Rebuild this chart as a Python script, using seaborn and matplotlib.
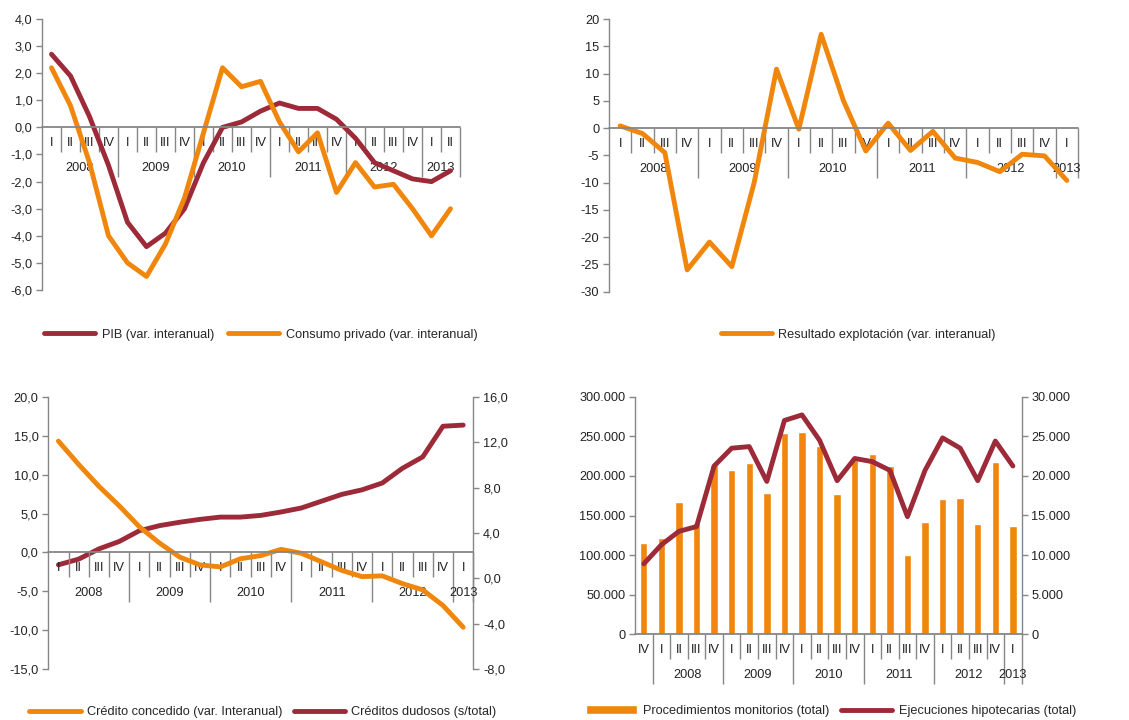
import numpy as np
import pandas as pd
import seaborn as sns
import matplotlib.pyplot as plt
from matplotlib.ticker import FuncFormatter, MultipleLocator

# Datos
trim_a = ['I', 'II', 'III', 'IV'] * 5 + ['I', 'II']          # 2008 I - 2013 II
trim_b = ['I', 'II', 'III', 'IV'] * 5 + ['I']                # 2008 I - 2013 I
trim_c = ['IV'] + ['I', 'II', 'III', 'IV'] * 5 + ['I']       # 2007 IV - 2013 I
anios = ['2008', '2009', '2010', '2011', '2012', '2013']

pib = [2.7, 1.9, 0.4, -1.4, -3.5, -4.4, -3.9, -3.0, -1.3, 0.0, 0.2, 0.6,
       0.9, 0.7, 0.7, 0.3, -0.4, -1.3, -1.6, -1.9, -2.0, -1.6]
consumo = [2.2, 0.8, -1.3, -4.0, -5.0, -5.5, -4.3, -2.6, -0.2, 2.2, 1.5, 1.7,
           0.2, -0.9, -0.2, -2.4, -1.3, -2.2, -2.1, -3.0, -4.0, -3.0]

resultado = [0.4, -1.0, -4.5, -26.0, -20.9, -25.4, -10.0, 10.8, -0.2, 17.2, 5.0,
             -4.2, 0.9, -4.1, -0.6, -5.5, -6.3, -8.0, -4.8, -5.1, -9.6]

credito = [14.3, 11.3, 8.5, 6.0, 3.3, 1.2, -0.6, -1.6, -1.85, -0.8, -0.4,
           0.4, -0.1, -1.2, -2.3, -3.1, -3.0, -4.0, -4.8, -6.8, -9.6]
dudosos = [1.2, 1.7, 2.6, 3.25, 4.2, 4.65, 4.95, 5.2, 5.4, 5.4, 5.55,
           5.85, 6.2, 6.8, 7.4, 7.8, 8.4, 9.7, 10.7, 13.4, 13.5]

monitorios = [115000, 121000, 167000, 141000, 214000, 207000, 216000, 178000,
              254000, 255000, 238000, 177000, 220000, 228000, 212000, 100000,
              142000, 171000, 172000, 139000, 217000, 137000]
ejecuciones = [8900, 11300, 13000, 13600, 21250, 23500, 23700, 19300, 27000,
               27700, 24500, 19400, 22200, 21800, 20700, 14850, 20700, 24800,
               23500, 19400, 24400, 21250]

ROJO = '#9d2a38'
NARANJA = '#f0860c'
GRIS = '#868686'
TXT = 9.2

sns.set_style("ticks")
plt.rcParams['font.family'] = ['Liberation Sans', 'DejaVu Sans']
plt.rcParams['font.size'] = TXT

fig = plt.figure(figsize=(11.29, 7.2), dpi=100)
FIG_H = 720

coma1 = FuncFormatter(lambda v, p: f"{v:.1f}".replace('.', ','))
entero = FuncFormatter(lambda v, p: f"{v:.0f}")
miles = FuncFormatter(lambda v, p: f"{v:,.0f}".replace(',', '.'))


def estilo(ax, lado='left'):
    for s in ['top', 'right', 'bottom', 'left']:
        ax.spines[s].set_visible(False)
    ax.spines[lado].set_visible(True)
    ax.spines[lado].set_color(GRIS)
    ax.spines[lado].set_linewidth(1.0)
    ax.set_xticks([])
    ax.set_xlabel('')
    ax.set_ylabel('')
    ax.tick_params(axis='y', direction='out', length=4, width=1, color=GRIS,
                   pad=3, labelsize=TXT, labelcolor='#222222')


def eje_trimestres(ax, trimestres, cortes, grupos):
    # eje de categorias por debajo del cero: trimestres y años
    lo, hi = ax.get_ylim()
    u = (hi - lo) / (ax.get_position().height * FIG_H)
    n = len(trimestres)
    ax.axhline(0, color=GRIS, lw=1.3, zorder=2, clip_on=False)
    for i in range(n):
        b = i + 0.5
        largo = 50 if b in cortes else 25
        ax.vlines(b, 0, -largo * u, color=GRIS, lw=1.0, zorder=1, clip_on=False)
        ax.text(i, -16 * u, trimestres[i], ha='center', va='center',
                fontsize=TXT, color='#222222', zorder=1, clip_on=False)
    for lab, a, b in grupos:
        ax.text((a + b) / 2, -41 * u, lab, ha='center', va='center',
                fontsize=TXT, color='#222222', zorder=1, clip_on=False)


# Panel 1: PIB y consumo privado
ax1 = fig.add_axes([42 / 1129, 1 - 290 / 720, 418 / 1129, 271 / 720])
x1 = np.arange(len(pib))
sns.lineplot(x=x1, y=pib, ax=ax1, color=ROJO, linewidth=3.5,
             solid_capstyle='round', label='PIB (var. interanual)')
sns.lineplot(x=x1, y=consumo, ax=ax1, color=NARANJA, linewidth=3.5,
             solid_capstyle='round', label='Consumo privado (var. interanual)')
ax1.set_ylim(-6, 4)
ax1.set_xlim(-0.5, len(pib) - 0.5)
ax1.yaxis.set_major_locator(MultipleLocator(1))
ax1.yaxis.set_major_formatter(coma1)
estilo(ax1)
eje_trimestres(ax1, trim_a, [3.5, 7.5, 11.5, 15.5, 19.5, 21.5],
               [(anios[k], 4 * k, min(4 * k + 3, 21)) for k in range(6)])
h, l = ax1.get_legend_handles_labels()
ax1.get_legend().remove()
fig.legend(h, l, loc='center', bbox_to_anchor=(0.231, 0.535), ncol=2,
           frameon=False, handlelength=4, handletextpad=0.5, columnspacing=1.1,
           fontsize=TXT)

# Panel 2: resultado de explotacion
ax2 = fig.add_axes([609 / 1129, 1 - 291.7 / 720, 469 / 1129, 272.7 / 720])
x2 = np.arange(len(resultado))
sns.lineplot(x=x2, y=resultado, ax=ax2, color=NARANJA, linewidth=3.5,
             solid_capstyle='round', label='Resultado explotación (var. interanual)')
ax2.set_ylim(-30, 20)
ax2.set_xlim(-0.5, len(resultado) - 0.5)
ax2.yaxis.set_major_locator(MultipleLocator(5))
ax2.yaxis.set_major_formatter(entero)
estilo(ax2)
eje_trimestres(ax2, trim_b, [3.5, 7.5, 11.5, 15.5, 19.5, 20.5],
               [(anios[k], 4 * k, min(4 * k + 3, 20)) for k in range(6)])
h, l = ax2.get_legend_handles_labels()
ax2.get_legend().remove()
fig.legend(h, l, loc='center', bbox_to_anchor=(0.760, 0.535), ncol=1,
           frameon=False, handlelength=4, handletextpad=0.5, fontsize=TXT)

# Panel 3: credito concedido y dudosos (doble eje)
pos3 = [48.3 / 1129, 1 - 669.3 / 720, 425 / 1129, 272.6 / 720]
ax3 = fig.add_axes(pos3)
ax3b = ax3.twinx()
ax3b.set_position(pos3)
x3 = np.arange(len(credito))
sns.lineplot(x=x3, y=credito, ax=ax3, color=NARANJA, linewidth=3.5,
             solid_capstyle='round', label='Crédito concedido (var. Interanual)')
sns.lineplot(x=x3, y=dudosos, ax=ax3b, color=ROJO, linewidth=3.5,
             solid_capstyle='round', label='Créditos dudosos (s/total)')
ax3.set_ylim(-15, 20)
ax3b.set_ylim(-8, 16)
ax3.set_xlim(-0.5, len(credito) - 0.5)
ax3b.set_xlim(-0.5, len(credito) - 0.5)
ax3.yaxis.set_major_locator(MultipleLocator(5))
ax3b.yaxis.set_major_locator(MultipleLocator(4))
ax3.yaxis.set_major_formatter(coma1)
ax3b.yaxis.set_major_formatter(coma1)
estilo(ax3)
estilo(ax3b, 'right')
ax3.set_zorder(ax3b.get_zorder() + 1)
ax3.patch.set_visible(False)
eje_trimestres(ax3, trim_b, [3.5, 7.5, 11.5, 15.5, 19.5, 20.5],
               [(anios[k], 4 * k, min(4 * k + 3, 20)) for k in range(6)])
h1, l1 = ax3.get_legend_handles_labels()
h2, l2 = ax3b.get_legend_handles_labels()
ax3.get_legend().remove()
ax3b.get_legend().remove()
fig.legend(h1 + h2, l1 + l2, loc='center', bbox_to_anchor=(0.233, 0.011), ncol=2,
           frameon=False, handlelength=4, handletextpad=0.5, columnspacing=0.9,
           fontsize=TXT)

# Panel 4: monitorios (barras) y ejecuciones hipotecarias (linea)
pos4 = [635 / 1129, 1 - 634.3 / 720, 386.7 / 1129, 237.6 / 720]
ax4 = fig.add_axes(pos4)
ax4b = ax4.twinx()
ax4b.set_position(pos4)
x4 = np.arange(len(monitorios))
sns.barplot(x=x4, y=monitorios, ax=ax4, color=NARANJA, saturation=1,
            width=0.42, label='Procedimientos monitorios (total)')
sns.lineplot(x=x4, y=ejecuciones, ax=ax4b, color=ROJO, linewidth=3.5,
             solid_capstyle='round', label='Ejecuciones hipotecarias (total)')
ax4.set_ylim(0, 300000)
ax4b.set_ylim(0, 30000)
ax4.set_xlim(-0.5, len(monitorios) - 0.5)
ax4b.set_xlim(-0.5, len(monitorios) - 0.5)
ax4.yaxis.set_major_locator(MultipleLocator(50000))
ax4b.yaxis.set_major_locator(MultipleLocator(5000))
ax4.yaxis.set_major_formatter(miles)
ax4b.yaxis.set_major_formatter(miles)
estilo(ax4)
estilo(ax4b, 'right')
eje_trimestres(ax4, trim_c, [0.5, 4.5, 8.5, 12.5, 16.5, 20.5, 21.5],
               [(anios[k], 4 * k + 1, min(4 * k + 4, 21)) for k in range(6)])
h1, l1 = ax4.get_legend_handles_labels()
h2, l2 = ax4b.get_legend_handles_labels()
if ax4.get_legend():
    ax4.get_legend().remove()
ax4b.get_legend().remove()
fig.legend(h1 + h2, l1 + l2, loc='center', bbox_to_anchor=(0.736, 0.0125), ncol=2,
           frameon=False, handlelength=4, handletextpad=0.5, columnspacing=0.9,
           fontsize=TXT)

fig.savefig('out.png', dpi=100)
